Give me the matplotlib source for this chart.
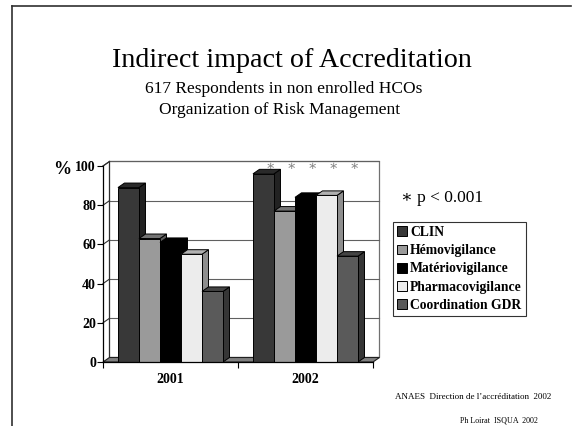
import matplotlib
matplotlib.use("Agg")
import matplotlib.pyplot as plt
from matplotlib.patches import Polygon, Patch

plt.rcParams['font.family'] = ['Liberation Serif', 'DejaVu Serif']

years = ['2001', '2002']
series = ['CLIN', 'Hémovigilance', 'Matériovigilance', 'Pharmacovigilance', 'Coordination GDR']
values_2001 = [89, 63, 61, 55, 36]
values_2002 = [96, 77, 84, 85, 54]
colors = ['#383838', '#9a9a9a', '#000000', '#ececec', '#5a5a5a']
yticks = [0, 20, 40, 60, 80, 100]


def shade(c, f):
    r, g, b = matplotlib.colors.to_rgb(c)
    return (r * f, g * f, b * f)


fig = plt.figure(figsize=(5.72, 4.26), dpi=100)
ax = fig.add_axes([103 / 572, 64 / 426, 270 / 572, 196 / 426])
ax.set_xlim(0, 2)
ax.set_ylim(0, 100)

dx, dy = 0.048, 2.3  # depth offset of the pseudo-3D look
w = 0.1556

# back wall, side wall, floor
ax.add_patch(Polygon([(dx, dy), (2 + dx, dy), (2 + dx, 100 + dy), (dx, 100 + dy)],
                     closed=True, fc='white', ec='#707070', lw=0.9, zorder=1, clip_on=False))
for v in yticks[1:]:
    ax.plot([dx, 2 + dx], [v + dy, v + dy], color='#606060', lw=0.8, zorder=1.5, clip_on=False)
    ax.plot([0, dx], [v, v + dy], color='#303030', lw=0.8, zorder=1.5, clip_on=False)
ax.plot([dx, dx], [dy, 100 + dy], color='#303030', lw=0.8, zorder=1.5, clip_on=False)
ax.plot([0, dx], [100, 100 + dy], color='#303030', lw=0.8, zorder=1.5, clip_on=False)
ax.add_patch(Polygon([(0, 0), (2, 0), (2 + dx, dy), (dx, dy)], closed=True,
                     fc='#808080', ec='#202020', lw=0.8, zorder=2, clip_on=False))

z = 3
for g, vals in enumerate([values_2001, values_2002]):
    for i, (v, c) in enumerate(zip(vals, colors)):
        x = g + 0.5 + (i - 2.5) * w
        ax.add_patch(Polygon([(x + w, 0), (x + w + dx, dy), (x + w + dx, v + dy), (x + w, v)],
                             closed=True, fc=shade(c, 0.6), ec='black', lw=0.7, zorder=z, clip_on=False))
        ax.add_patch(Polygon([(x, v), (x + dx, v + dy), (x + w + dx, v + dy), (x + w, v)],
                             closed=True, fc=shade(c, 0.75), ec='black', lw=0.7, zorder=z, clip_on=False))
        ax.bar(x, v, width=w, align='edge', color=c, edgecolor='black', lw=0.7, zorder=z + 0.5)
        z += 1
        if g == 1:
            ax.text(x + w / 2 + dx, 100, '∗', ha='center', va='center', fontsize=10,
                    color='#808080', zorder=z, clip_on=False)

for s in ['top', 'right']:
    ax.spines[s].set_visible(False)
ax.spines['left'].set_zorder(20)
ax.spines['bottom'].set_zorder(20)
ax.spines['left'].set_linewidth(0.9)
ax.spines['bottom'].set_linewidth(0.9)

ax.set_yticks(yticks)
ax.set_yticklabels([str(t) for t in yticks], fontsize=10, fontweight='bold')
ax.set_xticks([0, 1, 2])
ax.set_xticklabels(['', '', ''])
ax.set_xticks([0.5, 1.5], minor=True)
ax.set_xticklabels(years, minor=True, fontsize=10, fontweight='bold')
ax.tick_params(axis='x', which='major', length=4, width=0.8, direction='out')
ax.tick_params(axis='x', which='minor', length=0, pad=8)
ax.tick_params(axis='y', length=4, width=0.8, pad=1)

fig.text(62 / 572, 1 - 170 / 426, '%', fontsize=13, fontweight='bold', ha='center', va='center')

# titles
fig.text(292 / 572, 1 - 67 / 426, 'Indirect impact of Accreditation', fontsize=20.2,
         ha='center', va='baseline')
fig.text(284 / 572, 1 - 93 / 426, '617 Respondents in non enrolled HCOs', fontsize=12.5,
         ha='center', va='baseline')
fig.text(280 / 572, 1 - 114 / 426, 'Organization of Risk Management', fontsize=12.5,
         ha='center', va='baseline')

fig.text(401 / 572, 1 - 198 / 426, '∗ p < 0.001', fontsize=12.5, ha='left', va='center')

handles = [Patch(fc=c, ec='black', lw=0.7) for c in colors]
leg = fig.legend(handles, series, loc='upper left', bbox_to_anchor=(393 / 572, 1 - 222 / 426),
                 frameon=True, fancybox=False, borderaxespad=0, prop={'size': 9.8, 'weight': 'bold'},
                 handlelength=0.75, handleheight=0.75, handletextpad=0.2, labelspacing=0.38,
                 borderpad=0.3)
leg.get_frame().set_edgecolor('black')
leg.get_frame().set_linewidth(0.8)

fig.text(473 / 572, 1 - 397 / 426, 'ANAES  Direction de l\u2019accréditation  2002', fontsize=6.5,
         ha='center', va='center')
fig.text(499 / 572, 1 - 421 / 426, 'Ph Loirat  ISQUA  2002', fontsize=5.8, ha='center', va='center')

# slide frame
fig.add_artist(plt.Line2D([12 / 572, 12 / 572], [0, 1 - 6 / 426], color='#303030', lw=1.2))
fig.add_artist(plt.Line2D([12 / 572, 571 / 572], [1 - 6 / 426, 1 - 6 / 426], color='#303030', lw=1.2))

fig.savefig('out.png', dpi=100)
